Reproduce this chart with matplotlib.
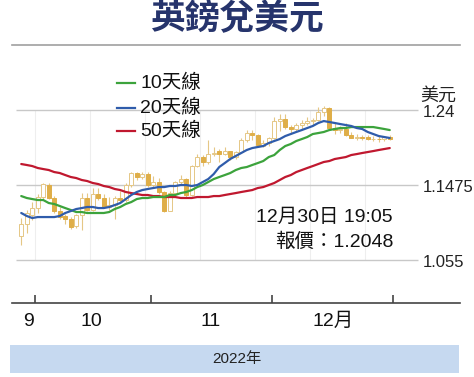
import matplotlib
matplotlib.use('Agg')
import matplotlib.pyplot as plt
from matplotlib.patches import Rectangle
from matplotlib.lines import Line2D

plt.rcParams['font.family'] = ['Liberation Sans Narrow', 'Liberation Sans', 'Noto Sans CJK TC']

# 英鎊兌美元 日線 (2022-09-28 至 2022-12-30)
opens = [1.0850, 1.0999, 1.1105, 1.1190, 1.1330, 1.1475, 1.1320, 1.1150, 1.1090, 1.1060,
         1.0970, 1.1100, 1.1320, 1.1170, 1.1360, 1.1320, 1.1210, 1.1230, 1.1310, 1.1290,
         1.1470, 1.1620, 1.1570, 1.1615, 1.1470, 1.1510, 1.1390, 1.1160, 1.1380, 1.1510,
         1.1550, 1.1350, 1.1710, 1.1820, 1.1760, 1.1860, 1.1900, 1.1860, 1.1890, 1.1820,
         1.1880, 1.2030, 1.2120, 1.2090, 1.1960, 1.1990, 1.2060, 1.2260, 1.2290, 1.2190,
         1.2160, 1.2210, 1.2240, 1.2270, 1.2280, 1.2370, 1.2430, 1.2180, 1.2150, 1.2170,
         1.2095, 1.2060, 1.2065, 1.2070, 1.2040, 1.2045, 1.2040, 1.2070]
highs = [1.1068, 1.1167, 1.1265, 1.1370, 1.1500, 1.1500, 1.1340, 1.1200, 1.1120, 1.1080,
         1.1120, 1.1380, 1.1380, 1.1440, 1.1440, 1.1360, 1.1330, 1.1340, 1.1400, 1.1500,
         1.1640, 1.1640, 1.1630, 1.1640, 1.1590, 1.1560, 1.1400, 1.1400, 1.1530, 1.1600,
         1.1560, 1.1720, 1.1860, 1.1850, 1.2030, 1.1950, 1.1920, 1.1950, 1.1900, 1.1900,
         1.2060, 1.2150, 1.2150, 1.2100, 1.2030, 1.2070, 1.2310, 1.2345, 1.2345, 1.2220,
         1.2240, 1.2280, 1.2320, 1.2300, 1.2440, 1.2450, 1.2440, 1.2240, 1.2200, 1.2240,
         1.2130, 1.2100, 1.2090, 1.2090, 1.2080, 1.2075, 1.2085, 1.2090]
lows = [1.0735, 1.0883, 1.1043, 1.1130, 1.1290, 1.1300, 1.1130, 1.1060, 1.1000, 1.0930,
        1.0950, 1.0925, 1.1150, 1.1150, 1.1290, 1.1190, 1.1170, 1.1060, 1.1250, 1.1260,
        1.1450, 1.1540, 1.1550, 1.1450, 1.1450, 1.1360, 1.1140, 1.1150, 1.1370, 1.1480,
        1.1330, 1.1340, 1.1700, 1.1710, 1.1740, 1.1830, 1.1760, 1.1840, 1.1780, 1.1800,
        1.1870, 1.2010, 1.2030, 1.1940, 1.1940, 1.1960, 1.2040, 1.2140, 1.2170, 1.2110,
        1.2130, 1.2170, 1.2220, 1.2210, 1.2270, 1.2330, 1.2170, 1.2110, 1.2120, 1.2080,
        1.2050, 1.2030, 1.2030, 1.2030, 1.2020, 1.2010, 1.2020, 1.2030]
closes = [1.1000, 1.1130, 1.1190, 1.1330, 1.1490, 1.1320, 1.1150, 1.1080, 1.1060, 1.0960,
          1.1100, 1.1320, 1.1170, 1.1360, 1.1320, 1.1210, 1.1230, 1.1310, 1.1290, 1.1470,
          1.1620, 1.1570, 1.1615, 1.1470, 1.1510, 1.1390, 1.1160, 1.1380, 1.1510, 1.1550,
          1.1350, 1.1710, 1.1820, 1.1760, 1.1860, 1.1870, 1.1860, 1.1890, 1.1820, 1.1880,
          1.2030, 1.2120, 1.2090, 1.1970, 1.1990, 1.2060, 1.2260, 1.2290, 1.2190, 1.2160,
          1.2210, 1.2240, 1.2270, 1.2280, 1.2370, 1.2430, 1.2180, 1.2150, 1.2160, 1.2095,
          1.2060, 1.2065, 1.2060, 1.2040, 1.2045, 1.2040, 1.2070, 1.2048]

ma10 = [1.1339, 1.1315, 1.1302, 1.1290, 1.1290, 1.1253, 1.1241, 1.1216, 1.1191, 1.1167,
        1.1142, 1.1142, 1.1130, 1.1130, 1.1130, 1.1130, 1.1142, 1.1179, 1.1204, 1.1241,
        1.1265, 1.1302, 1.1315, 1.1315, 1.1327, 1.1327, 1.1327, 1.1352, 1.1352, 1.1376,
        1.1389, 1.1413, 1.1450, 1.1475, 1.1512, 1.1549, 1.1574, 1.1598, 1.1623, 1.1660,
        1.1685, 1.1697, 1.1722, 1.1746, 1.1771, 1.1820, 1.1845, 1.1907, 1.1956, 1.1981,
        1.2018, 1.2042, 1.2067, 1.2104, 1.2116, 1.2129, 1.2153, 1.2166, 1.2178, 1.2178,
        1.2190, 1.2190, 1.2190, 1.2190, 1.2190, 1.2178, 1.2166, 1.2153]
ma20 = [1.1130, 1.1093, 1.1068, 1.1080, 1.1080, 1.1080, 1.1080, 1.1093, 1.1130, 1.1154,
        1.1179, 1.1191, 1.1204, 1.1204, 1.1191, 1.1191, 1.1204, 1.1228, 1.1253, 1.1302,
        1.1352, 1.1389, 1.1413, 1.1426, 1.1438, 1.1450, 1.1450, 1.1463, 1.1463, 1.1475,
        1.1475, 1.1463, 1.1475, 1.1512, 1.1549, 1.1611, 1.1697, 1.1746, 1.1796, 1.1833,
        1.1870, 1.1907, 1.1931, 1.1944, 1.1956, 1.1993, 1.2018, 1.2042, 1.2079, 1.2104,
        1.2129, 1.2153, 1.2178, 1.2203, 1.2240, 1.2264, 1.2252, 1.2240, 1.2227, 1.2215,
        1.2203, 1.2178, 1.2166, 1.2129, 1.2104, 1.2079, 1.2067, 1.2055]
ma50 = [1.1734, 1.1722, 1.1709, 1.1685, 1.1672, 1.1660, 1.1635, 1.1623, 1.1598, 1.1574,
        1.1561, 1.1537, 1.1524, 1.1500, 1.1487, 1.1463, 1.1450, 1.1426, 1.1413, 1.1389,
        1.1376, 1.1364, 1.1352, 1.1352, 1.1339, 1.1339, 1.1327, 1.1327, 1.1327, 1.1315,
        1.1315, 1.1315, 1.1327, 1.1327, 1.1327, 1.1339, 1.1339, 1.1352, 1.1364, 1.1376,
        1.1389, 1.1401, 1.1413, 1.1438, 1.1450, 1.1475, 1.1500, 1.1537, 1.1574, 1.1598,
        1.1635, 1.1660, 1.1685, 1.1709, 1.1734, 1.1759, 1.1771, 1.1796, 1.1808, 1.1820,
        1.1845, 1.1857, 1.1870, 1.1882, 1.1894, 1.1907, 1.1919, 1.1931]

y_ticks = [1.055, 1.1475, 1.24]
y_tick_labels = ['1.055', '1.1475', '1.24']
month_bounds = [2.5, 23.5, 45.5, 67.5]      # 10月1日, 11月1日, 12月1日, 1月1日
month_label_pos = [1.4, 12.7, 34.5, 56.7]
month_labels = ['9', '10', '11', '12月']
legend_labels = ['10天線', '20天線', '50天線']
line_colors = ['#3ca33c', '#2f5cab', '#c0182f']

W, H = 474, 377
fig = plt.figure(figsize=(W / 100, H / 100), dpi=100)

# 主圖: 像素 x 12-460, y 45-303
ax = fig.add_axes([12 / W, (H - 303) / H, 448 / W, 258 / H])
ax.set_xlim(-1.682, 79.77)
ax.set_ylim(1.0020, 1.3202)

# 網格
ax.hlines(y_ticks, -0.95, 72.1, color='#c8c8c8', lw=1.0, zorder=1)
for xv in range(0, 70, 10):
    ax.vlines(xv + 2.5, 1.055, 1.24, color='#eeeeee', lw=0.8, zorder=0)

# 陰陽燭
gold = '#dfae48'
wick = '#e5c785'
for i in range(len(closes)):
    o, h, l, c = opens[i], highs[i], lows[i], closes[i]
    ax.vlines(i, l, h, color=wick, lw=0.8, zorder=2)
    up = c >= o
    ax.bar(i, max(abs(c - o), 0.0004), bottom=min(o, c), width=0.72,
           color='white' if up else gold, edgecolor=wick if up else gold,
           lw=0.7, zorder=3)

days = list(range(len(closes)))
for series, col in zip([ma50, ma10, ma20], [line_colors[2], line_colors[0], line_colors[1]]):
    ax.plot(days, series, color=col, lw=1.6, zorder=4, solid_capstyle='round')

# 圖例
for k, (lab, col) in enumerate(zip(legend_labels, line_colors)):
    yy = (H - [83, 108, 131][k]) / H
    fig.add_artist(Line2D([117 / W, 135 / W], [yy, yy], color=col, lw=1.6))
    fig.text(140 / W, yy, lab, fontsize=14, va='center', ha='left', color='#111111')

# 右側刻度
for v, t in zip(y_ticks, y_tick_labels):
    ax.annotate(t, (73.0, v), xytext=(0, -1.5), textcoords='offset points',
                fontsize=12, va='center', ha='left', color='#222222')
fig.text(438 / W, (H - 96) / H, '美元', fontsize=13, va='center', ha='center', color='#222222')

# 報價
fig.text(393 / W, (H - 217) / H, '12月30日 19:05', fontsize=14, ha='right', va='center', color='#111111')
fig.text(393 / W, (H - 242) / H, '報價：1.2048', fontsize=14, ha='right', va='center', color='#111111')

# 軸
for s in ['left', 'right']:
    ax.spines[s].set_visible(False)
ax.spines['top'].set_color('#a0a0a0')
ax.spines['top'].set_linewidth(1.2)
ax.spines['bottom'].set_color('#444444')
ax.spines['bottom'].set_linewidth(1.2)
ax.set_yticks([])
ax.set_xticks(month_bounds)
ax.set_xticklabels([])
ax.tick_params(axis='x', which='major', direction='in', length=6, width=1.2, color='#444444')
ax.set_xticks(month_label_pos, minor=True)
ax.set_xticklabels(month_labels, minor=True, fontsize=14, color='#111111')
ax.tick_params(axis='x', which='minor', length=0, pad=7)

# 標題
fig.text(0.5, (H - 19) / H, '英鎊兌美元', fontsize=25, fontweight='bold', ha='center', va='center',
         color='#26346c', family=['Noto Sans CJK TC'])

# 年份色帶
fig.add_artist(Rectangle((10 / W, (H - 373) / H), 449 / W, 28 / H, color='#c6d9f0', lw=0))
fig.text(237 / W, (H - 359) / H, '2022年', fontsize=11, ha='center', va='center', color='#222222')

fig.savefig('out.png', dpi=100)
